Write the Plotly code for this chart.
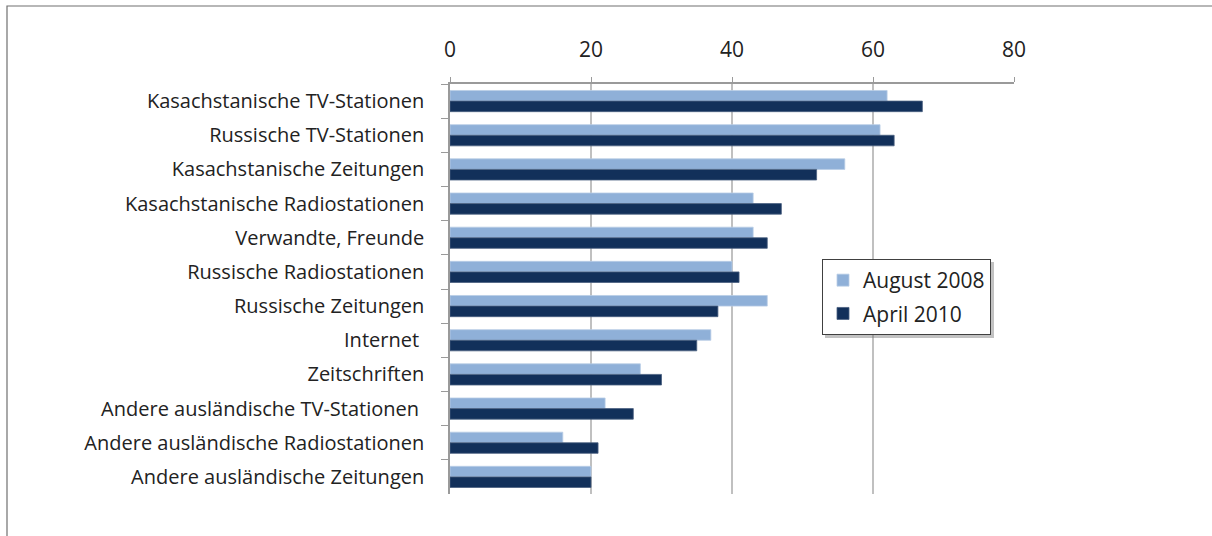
import plotly.graph_objects as go

categories = [
    "Kasachstanische TV-Stationen",
    "Russische TV-Stationen",
    "Kasachstanische Zeitungen",
    "Kasachstanische Radiostationen",
    "Verwandte, Freunde",
    "Russische Radiostationen",
    "Russische Zeitungen",
    "Internet ",
    "Zeitschriften",
    "Andere ausländische TV-Stationen ",
    "Andere ausländische Radiostationen",
    "Andere ausländische Zeitungen",
]
aug_2008 = [62, 61, 56, 43, 43, 40, 45, 37, 27, 22, 16, 20]
apr_2010 = [67, 63, 52, 47, 45, 41, 38, 35, 30, 26, 21, 20]
x_ticks = [0, 20, 40, 60, 80]

FONT = "Open Sans"
W, H = 1212, 536
L, R, T, B = 450, 198, 84, 42
pw, ph = W - L - R, H - T - B

def px(x):
    return (x - L) / pw

def py(y):
    return (H - B - y) / ph

fig = go.Figure()
fig.add_trace(go.Bar(
    y=categories, x=aug_2008, orientation="h", name="August 2008",
    marker=dict(color="#8fb0d8", line=dict(color="#b9cde6", width=0.8)),
    legendgroup="a",
))
fig.add_trace(go.Bar(
    y=categories, x=apr_2010, orientation="h", name="April 2010",
    marker=dict(color="#12305a", line=dict(color="#4a6080", width=0.8)),
    legendgroup="b",
))

fig.update_layout(
    width=W, height=H,
    margin=dict(l=L, r=R, t=T, b=B),
    paper_bgcolor="white", plot_bgcolor="white",
    barmode="group", bargap=0.38, bargroupgap=0,
    font=dict(family=FONT, color="#222222", size=17),
    showlegend=True,
    legend=dict(
        x=px(822), y=py(259), xanchor="left", yanchor="top",
        bordercolor="#404040", borderwidth=1, bgcolor="white",
        font=dict(family=FONT, size=21, color="#222222"),
        traceorder="grouped", tracegroupgap=3,
        itemwidth=30,
    ),
    xaxis=dict(
        side="top", range=[0, 80], tickvals=x_ticks,
        showgrid=True, gridcolor="#c0c0c0", gridwidth=1.5,
        showline=True, linecolor="#9a9a9a", linewidth=1.5,
        ticks="outside", ticklen=5, tickcolor="#9a9a9a",
        tickfont=dict(family=FONT, size=21, color="#222222"),
        ticklabelstandoff=12,
        zeroline=False, fixedrange=True,
    ),
    yaxis=dict(
        type="category", range=[len(categories) - 0.5, -0.5],
        showline=True, linecolor="#9a9a9a", linewidth=1.5,
        ticks="outside", ticklen=7, tickcolor="#9a9a9a", tickson="boundaries",
        tickfont=dict(family=FONT, size=20, color="#222222"),
        ticklabelstandoff=20,
        showgrid=False, fixedrange=True,
    ),
    shapes=[
        dict(type="rect", xref="paper", yref="paper",
             x0=px(7), x1=px(1230), y0=py(560), y1=py(6),
             line=dict(color="#707070", width=1.2), fillcolor="rgba(0,0,0,0)",
             layer="below"),
        dict(type="rect", xref="paper", yref="paper",
             x0=px(825), x1=px(994), y0=py(338), y1=py(262),
             line=dict(width=0), fillcolor="rgba(120,120,120,0.45)",
             layer="above"),
    ],
)

fig.write_html("out.html")
